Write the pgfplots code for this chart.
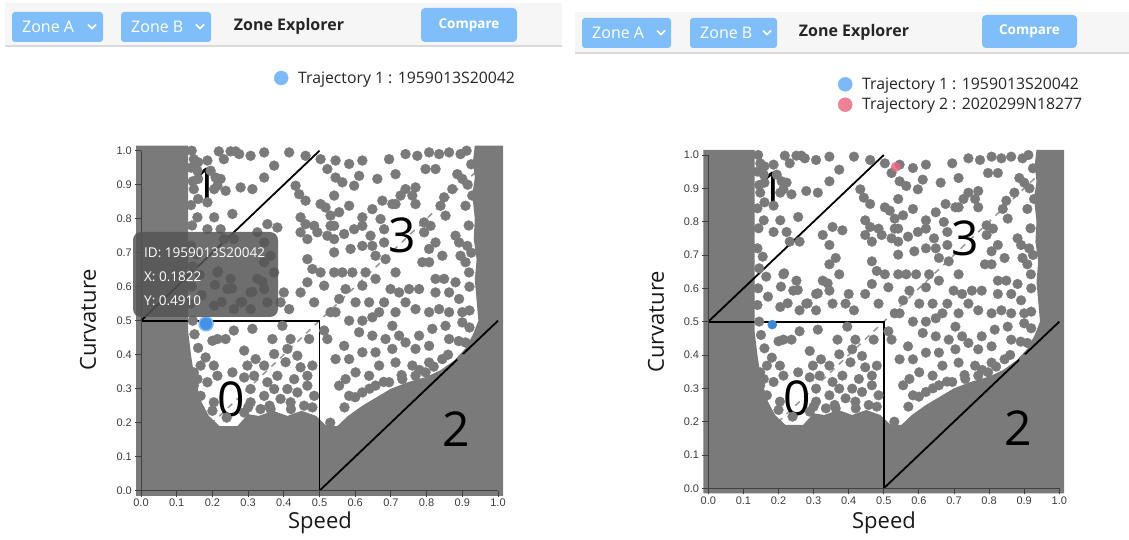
\documentclass[border=0pt]{standalone}
\usepackage{pgfplots}
\pgfplotsset{compat=1.18}
\usepackage{pgfplotstable}
\usepackage{fontspec}
\setmainfont{Open Sans}
\newfontfamily\tickfont{Liberation Sans}
\definecolor{dotgray}{RGB}{122,122,122}
\definecolor{btnblue}{RGB}{128,190,250}
\definecolor{barbg}{RGB}{246,246,246}
\definecolor{barline}{RGB}{218,218,218}
\definecolor{legblue}{RGB}{125,185,248}
\definecolor{legred}{RGB}{235,130,150}
\definecolor{hiblue}{RGB}{70,145,230}
\definecolor{hiring}{RGB}{125,185,245}
\definecolor{ptblue}{RGB}{60,135,215}
\definecolor{ptred}{RGB}{230,105,130}
\definecolor{ticktext}{RGB}{60,60,60}
\definecolor{tipfill}{RGB}{85,85,85}
\definecolor{dashgray}{RGB}{150,150,150}

\pgfplotstableread{
x y
0.148 0.975
0.160 0.966
0.158 0.941
0.186 0.971
0.195 0.941
0.209 0.921
0.214 0.897
0.223 0.917
0.160 0.917
0.148 0.887
0.160 0.858
0.186 0.848
0.205 0.887
0.237 0.882
0.251 0.998
0.218 0.998
0.232 0.975
0.275 0.990
0.307 0.985
0.312 0.887
0.279 0.892
0.265 0.998
0.345 0.995
0.373 0.956
0.415 0.995
0.345 0.921
0.461 0.985
0.503 0.975
0.522 0.946
0.545 0.921
0.433 0.897
0.443 0.872
0.461 0.853
0.503 0.843
0.541 0.868
0.517 0.833
0.531 0.809
0.447 0.804
0.461 0.784
0.485 0.779
0.447 0.760
0.466 0.740
0.494 0.760
0.522 0.750
0.541 0.740
0.466 0.681
0.480 0.652
0.503 0.642
0.513 0.603
0.466 0.613
0.447 0.583
0.400 0.583
0.415 0.534
0.485 0.554
0.531 0.525
0.541 0.642
0.531 0.779
0.158 0.804
0.205 0.804
0.256 0.814
0.186 0.769
0.223 0.769
0.354 0.784
0.382 0.774
0.326 0.760
0.345 0.730
0.232 0.740
0.260 0.740
0.214 0.642
0.251 0.623
0.242 0.593
0.279 0.554
0.307 0.583
0.326 0.623
0.345 0.593
0.354 0.554
0.373 0.642
0.391 0.554
0.363 0.691
0.345 0.672
0.307 0.534
0.260 0.534
0.205 0.544
0.545 0.971
0.583 0.961
0.620 0.971
0.611 0.926
0.597 0.897
0.564 0.907
0.662 0.917
0.713 0.931
0.695 0.975
0.741 0.990
0.774 0.985
0.807 0.995
0.835 0.990
0.863 0.995
0.895 0.990
0.797 0.946
0.825 0.946
0.886 0.931
0.900 0.917
0.872 0.887
0.928 0.868
0.909 0.838
0.849 0.863
0.839 0.838
0.853 0.809
0.811 0.779
0.793 0.789
0.769 0.892
0.741 0.887
0.727 0.868
0.760 0.868
0.769 0.843
0.713 0.843
0.676 0.853
0.704 0.843
0.648 0.828
0.620 0.804
0.583 0.838
0.555 0.819
0.541 0.779
0.569 0.755
0.597 0.769
0.620 0.779
0.643 0.750
0.671 0.799
0.681 0.769
0.681 0.730
0.648 0.720
0.620 0.720
0.587 0.711
0.541 0.701
0.657 0.691
0.685 0.681
0.713 0.642
0.788 0.672
0.807 0.672
0.825 0.730
0.807 0.711
0.793 0.760
0.844 0.691
0.881 0.750
0.895 0.691
0.891 0.730
0.914 0.720
0.909 0.672
0.919 0.642
0.881 0.613
0.849 0.623
0.825 0.623
0.825 0.583
0.863 0.583
0.891 0.564
0.779 0.593
0.751 0.593
0.741 0.554
0.723 0.583
0.699 0.593
0.681 0.554
0.657 0.623
0.629 0.642
0.620 0.603
0.592 0.642
0.564 0.642
0.573 0.593
0.555 0.564
0.601 0.554
0.639 0.554
0.667 0.525
0.713 0.525
0.769 0.534
0.807 0.525
0.835 0.534
0.863 0.525
0.900 0.525
0.545 0.525
0.214 0.446
0.260 0.471
0.312 0.476
0.237 0.446
0.200 0.441
0.289 0.412
0.181 0.392
0.368 0.446
0.396 0.485
0.419 0.446
0.471 0.446
0.513 0.471
0.522 0.446
0.410 0.417
0.438 0.397
0.373 0.402
0.321 0.387
0.298 0.368
0.345 0.368
0.405 0.378
0.447 0.363
0.480 0.368
0.466 0.338
0.429 0.328
0.382 0.338
0.354 0.319
0.317 0.338
0.289 0.333
0.256 0.348
0.214 0.338
0.204 0.368
0.167 0.368
0.148 0.348
0.158 0.328
0.186 0.319
0.307 0.299
0.345 0.279
0.373 0.299
0.410 0.299
0.438 0.289
0.466 0.309
0.485 0.279
0.457 0.250
0.419 0.260
0.391 0.270
0.363 0.240
0.335 0.240
0.307 0.260
0.289 0.230
0.204 0.260
0.167 0.279
0.148 0.309
0.583 0.500
0.620 0.500
0.648 0.510
0.704 0.485
0.723 0.456
0.685 0.446
0.648 0.456
0.611 0.466
0.569 0.426
0.545 0.387
0.583 0.387
0.620 0.407
0.657 0.407
0.704 0.417
0.741 0.436
0.779 0.456
0.769 0.417
0.807 0.426
0.816 0.476
0.853 0.485
0.900 0.495
0.863 0.446
0.909 0.436
0.844 0.387
0.807 0.377
0.760 0.368
0.713 0.377
0.667 0.368
0.639 0.338
0.601 0.348
0.573 0.328
0.555 0.309
0.583 0.279
0.620 0.289
0.657 0.309
0.695 0.319
0.732 0.328
0.769 0.338
0.797 0.348
0.881 0.348
0.900 0.387
0.938 0.397
0.966 0.436
0.165 0.635
0.216 0.645
0.207 0.605
0.170 0.575
0.155 0.695
0.255 0.595
0.226 0.555
0.283 0.555
0.312 0.585
0.340 0.615
0.200 0.235
0.240 0.215
0.300 0.245
0.360 0.250
0.420 0.240
0.480 0.245
0.530 0.200
0.570 0.245
0.600 0.275
0.640 0.300
0.680 0.320
0.730 0.340
0.780 0.355
0.820 0.365
0.860 0.400
0.890 0.440
0.920 0.480
0.160 0.420
0.150 0.460
0.145 0.500
0.140 0.550
0.142 0.600
0.145 0.660
0.140 0.720
0.143 0.780
0.140 0.840
0.145 0.910
0.140 0.950
0.142 1.000
0.920 0.600
0.915 0.900
0.925 0.700
0.920 0.530
0.918 0.780
0.925 0.960
0.912 1.000
}\speedcurv

\pgfplotsset{
  zonestyle/.style={
    scale only axis, xmin=0, xmax=1, ymin=0, ymax=1, clip=false,
    axis lines=left, axis line style={-, black!75, line width=0.9pt},
    axis on top,
    tick align=outside, major tick length=6pt,
    tick style={black!75, line width=0.9pt},
    xtick={0,0.1,0.2,0.3,0.4,0.5,0.6,0.7,0.8,0.9,1},
    ytick={0,0.1,0.2,0.3,0.4,0.5,0.6,0.7,0.8,0.9,1},
    /pgf/number format/.cd, fixed, fixed zerofill, precision=1, assume math mode=true,
    /pgfplots/.cd,
    ticklabel style={font=\tickfont\fontsize{11}{13}\selectfont, text=ticktext},
    xticklabel style={inner sep=2pt},
    yticklabel style={inner sep=3pt},
  },
}

\newcommand{\zonecontent}[1]{%
  \addplot[dashgray, line width=1.5pt, dash pattern=on 6pt off 6pt, forget plot] coordinates {(0,0) (1,1)};
  \addplot[fill=dotgray, draw=none, forget plot] coordinates {
    (-0.014,-0.015) (1.014,-0.015) (1.014,1.015) (0.935,1.015) (0.93,0.97) (0.935,0.92) (0.928,0.87) (0.935,0.8) (0.932,0.74) (0.94,0.68) (0.935,0.62) (0.94,0.56) (0.945,0.5) (0.93,0.46) (0.91,0.42) (0.88,0.385) (0.84,0.355) (0.8,0.335) (0.75,0.32) (0.7,0.3) (0.66,0.275) (0.62,0.25) (0.58,0.22) (0.55,0.19) (0.52,0.19) (0.49,0.22) (0.45,0.235) (0.41,0.22) (0.37,0.235) (0.33,0.22) (0.3,0.225) (0.27,0.19) (0.22,0.19) (0.19,0.22) (0.17,0.26) (0.15,0.33) (0.14,0.4) (0.132,0.47) (0.132,1.015) (-0.014,1.015)};
  \addplot[dotgray, only marks, mark=*, mark size=#1, mark options={solid, fill=dotgray, draw=dotgray, line width=0.3pt}, forget plot] table[x=x, y=y] {\speedcurv};
  \addplot[black, line width=1.8pt, forget plot] coordinates {(0,0.5) (0.5,0.5) (0.5,0)};
  \addplot[black, line width=1.8pt, forget plot] coordinates {(0,0.5) (0.5,1)};
  \addplot[black, line width=1.8pt, forget plot] coordinates {(0.5,0) (1,0.5)};
  \node[font=\fontsize{48}{50}\selectfont] at (axis cs:0.182,0.897) {1};
  \node[font=\fontsize{48}{50}\selectfont] at (axis cs:0.731,0.750) {3};
  \node[font=\fontsize{48}{50}\selectfont] at (axis cs:0.252,0.270) {0};
  \node[font=\fontsize{48}{50}\selectfont] at (axis cs:0.882,0.182) {2};
}

\begin{document}
\begin{tikzpicture}
\path[use as bounding box] (0pt,0pt) rectangle (1129pt,540pt);

\begin{scope}[x=1pt,y=1pt]
% ---- left toolbar
\fill[barbg] (5,537) rectangle (562,494);
\draw[barline, line width=1.5pt] (5,494) -- (562,494);
\fill[btnblue, rounded corners=3pt] (12,528) rectangle (103,498);
\node[anchor=west, text=white, font=\fontsize{16}{19}\selectfont, inner sep=0pt] at (22,513) {Zone A};
\draw[white, line width=1.6pt] (88,515.5) -- (92,511.5) -- (96,515.5);
\fill[btnblue, rounded corners=3pt] (121,528) rectangle (211,498);
\node[anchor=west, text=white, font=\fontsize{16}{19}\selectfont, inner sep=0pt] at (131,513) {Zone B};
\draw[white, line width=1.6pt] (196,515.5) -- (200,511.5) -- (204,515.5);
\node[font=\bfseries\fontsize{16}{19}\selectfont, text=black!85] at (289,514) {Zone Explorer};
\fill[btnblue, rounded corners=4pt] (421,532) rectangle (517,498);
\node[text=white, font=\bfseries\fontsize{13.5}{16}\selectfont] at (469,515) {Compare};
% ---- right toolbar
\fill[barbg] (575,528) rectangle (1129,487);
\draw[barline, line width=1.5pt] (575,487) -- (1129,487);
\fill[btnblue, rounded corners=3pt] (582,522) rectangle (671,492);
\node[anchor=west, text=white, font=\fontsize{16}{19}\selectfont, inner sep=0pt] at (592,507) {Zone A};
\draw[white, line width=1.6pt] (657,509.5) -- (661,505.5) -- (665,509.5);
\fill[btnblue, rounded corners=3pt] (690,522) rectangle (777,492);
\node[anchor=west, text=white, font=\fontsize{16}{19}\selectfont, inner sep=0pt] at (700,507) {Zone B};
\draw[white, line width=1.6pt] (763,509.5) -- (767,505.5) -- (771,509.5);
\node[font=\bfseries\fontsize{16}{19}\selectfont, text=black!85] at (854,508) {Zone Explorer};
\fill[btnblue, rounded corners=4pt] (982,525) rectangle (1077,492);
\node[text=white, font=\bfseries\fontsize{13.5}{16}\selectfont] at (1029.5,508.5) {Compare};
\end{scope}

% ================= left chart
\begin{axis}[zonestyle, at={(141pt,49.3pt)}, anchor=south west,
  width=357pt, height=340pt,
  legend style={at={(axis description cs:0.3725,1.2138)}, anchor=west, draw=none, fill=none,
    inner sep=0pt, outer sep=0pt, font=\fontsize{15.8}{18}\selectfont, text=black!85,
    nodes={inner sep=0pt}},
  legend cell align=left]
\zonecontent{5pt}
\addplot[only marks, mark=*, mark size=7pt, mark options={fill=hiblue, draw=hiring, line width=1.5pt},
  legend image code/.code={\fill[legblue] (0pt,0pt) circle (7pt); \path[draw=none, fill=none] (-7pt,-1pt) rectangle (17pt,1pt);}] coordinates {(0.1822,0.4910)};
\addlegendentry{Trajectory 1 : 1959013S20042}
\end{axis}

% ================= right chart
\begin{axis}[zonestyle, at={(708.3pt,51.7pt)}, anchor=south west,
  width=351pt, height=333.3pt,
  legend style={at={(axis description cs:0.3695,1.1815)}, anchor=west, draw=none, fill=none,
    inner sep=0pt, outer sep=0pt, font=\fontsize{15.8}{18}\selectfont, text=black!85, row sep=6pt,
    nodes={inner sep=0pt}},
  legend cell align=left]
\zonecontent{4.9pt}
\addplot[only marks, mark=*, mark size=4.6pt, mark options={fill=ptblue, draw=ptblue, line width=0.3pt},
  legend image code/.code={\fill[legblue] (0pt,0pt) circle (7pt); \path[draw=none, fill=none] (-7pt,-1pt) rectangle (17pt,1pt);}] coordinates {(0.1822,0.4910)};
\addlegendentry{Trajectory 1 : 1959013S20042}
\addplot[only marks, mark=*, mark size=4.8pt, mark options={fill=ptred, draw=ptred, line width=0.3pt, opacity=0.85},
  legend image code/.code={\fill[legred] (0pt,0pt) circle (7pt); \path[draw=none, fill=none] (-7pt,-1pt) rectangle (17pt,1pt);}] coordinates {(0.534,0.964)};
\addlegendentry{Trajectory 2 : 2020299N18277}
\end{axis}

\begin{scope}[x=1pt,y=1pt]
% axis titles
\node[font=\fontsize{22}{26}\selectfont, text=black!90] at (320,17) {Speed};
\node[font=\fontsize{22}{26}\selectfont, text=black!90, rotate=90] at (88,220) {Curvature};
\node[font=\fontsize{22}{26}\selectfont, text=black!90] at (884,17) {Speed};
\node[font=\fontsize{22}{26}\selectfont, text=black!90, rotate=90] at (656,218) {Curvature};
% tooltip
\fill[tipfill, fill opacity=0.85, rounded corners=8pt] (133,308) rectangle (278,223);
\node[anchor=west, text=white, font=\fontsize{13.5}{16}\selectfont, inner sep=0pt] at (144,287) {ID: 1959013S20042};
\node[anchor=west, text=white, font=\fontsize{13.5}{16}\selectfont, inner sep=0pt] at (144,263) {X: 0.1822};
\node[anchor=west, text=white, font=\fontsize{13.5}{16}\selectfont, inner sep=0pt] at (144,239) {Y: 0.4910};
\end{scope}
\end{tikzpicture}
\end{document}
